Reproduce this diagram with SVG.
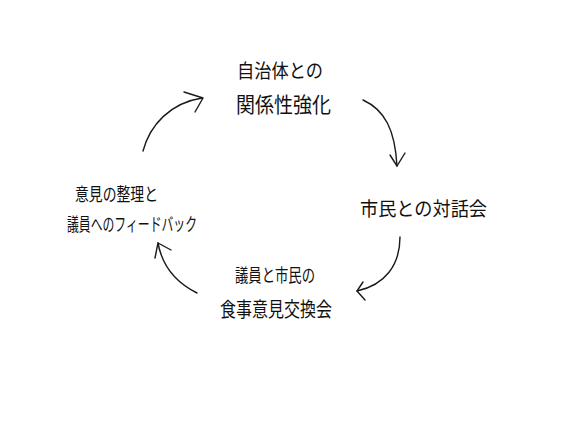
<svg xmlns="http://www.w3.org/2000/svg" width="567" height="425" viewBox="0 0 567 425">
<style>
text{font-family:"Noto Sans CJK JP","Noto Sans",sans-serif;fill:#111;font-weight:400}
.c{fill:none;stroke:#1a1a1a;stroke-width:1.4;stroke-linecap:round;stroke-linejoin:round}
</style>
<rect width="567" height="425" fill="#fff"/>
<g id="node-top">
<text x="237" y="78" font-size="19" textLength="86" lengthAdjust="spacingAndGlyphs">自治体との</text>
<text x="236" y="112" font-size="21" textLength="95" lengthAdjust="spacingAndGlyphs">関係性強化</text>
</g>
<g id="node-right">
<text x="360" y="216" font-size="19" textLength="127" lengthAdjust="spacingAndGlyphs">市民との対話会</text>
</g>
<g id="node-bottom">
<text x="235" y="282" font-size="18" textLength="80" lengthAdjust="spacingAndGlyphs">議員と市民の</text>
<text x="220" y="317" font-size="20" textLength="112" lengthAdjust="spacingAndGlyphs">食事意見交換会</text>
</g>
<g id="node-left">
<text x="75" y="201" font-size="18" textLength="83" lengthAdjust="spacingAndGlyphs">意見の整理と</text>
<text x="67" y="231" font-size="18" textLength="130" lengthAdjust="spacingAndGlyphs">議員へのフィードバック</text>
</g>
<g id="connectors">
<path class="c" d="M143,151 C150,125 170,103 202,98"/>
<path class="c" d="M184,92 L203,98 L195,112"/>
<path class="c" d="M363,100 C385,110 395,130 397,166"/>
<path class="c" d="M390,155 L397,166 L405,153"/>
<path class="c" d="M400,237 C400,265 385,285 357,291"/>
<path class="c" d="M363,282 L357,291 L365,300"/>
<path class="c" d="M197,293 C175,282 162,265 158,243"/>
<path class="c" d="M155,258 L158,243 L171,250"/>
</g>
</svg>
